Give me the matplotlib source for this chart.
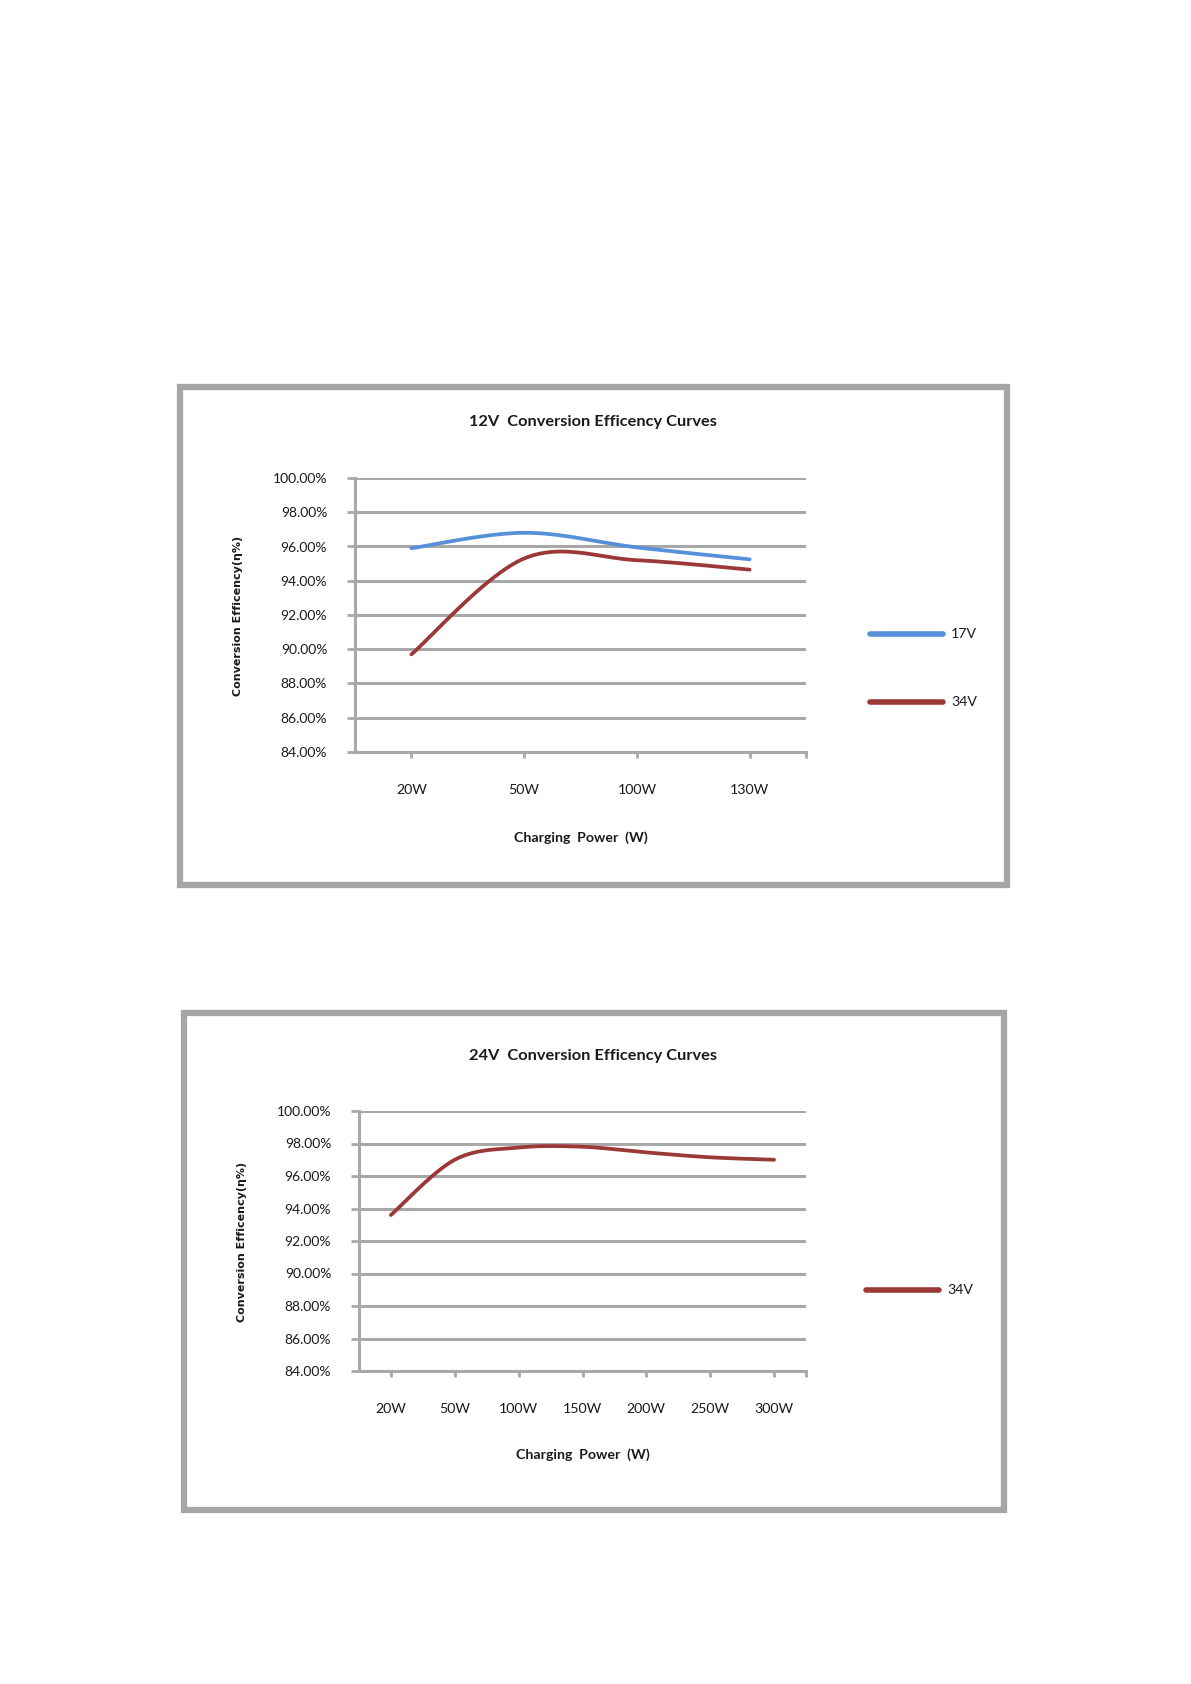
import numpy as np
import matplotlib
matplotlib.use("Agg")
import matplotlib.pyplot as plt
from matplotlib.patches import Rectangle

# ---------------- data ----------------
cats_12v = ["20W", "50W", "100W", "130W"]
eff_12v_17v = [95.9, 96.8, 95.95, 95.25]
eff_12v_34v = [89.7, 95.3, 95.2, 94.65]

cats_24v = ["20W", "50W", "100W", "150W", "200W", "250W", "300W"]
eff_24v_34v = [93.6, 97.0, 97.75, 97.8, 97.45, 97.15, 97.0]

y_ticks = [84, 86, 88, 90, 92, 94, 96, 98, 100]

title_12v = "12V  Conversion Efficency Curves"
title_24v = "24V  Conversion Efficency Curves"
ylabel = "Conversion Efficency(η%)"
xlabel = "Charging  Power  (W)"

BLUE = "#5690d8"
RED = "#9b3937"
GRID = "#a8a8a8"
BORDER = "#a6a6a6"
NARROW = ["Lato", "DejaVu Sans"]

W, H = 1191, 1684
fig = plt.figure(figsize=(W / 100, H / 100), dpi=100)
fig.patch.set_facecolor("white")


def fx(px):
    return px / W


def fy(py):
    return 1 - py / H


def smooth(xs, ys, n=40):
    # Excel-like smoothed line (Catmull-Rom -> cubic Bezier)
    xs = np.asarray(xs, float)
    ys = np.asarray(ys, float)
    P = np.column_stack([xs, ys])
    Pext = np.vstack([P[0], P, P[-1]])
    out = []
    t = np.linspace(0, 1, n)[:, None]
    for i in range(len(P) - 1):
        p0, p1, p2, p3 = Pext[i], Pext[i + 1], Pext[i + 2], Pext[i + 3]
        c1 = p1 + (p2 - p0) / 6.0
        c2 = p2 - (p3 - p1) / 6.0
        seg = ((1 - t) ** 3) * p1 + 3 * ((1 - t) ** 2) * t * c1 + 3 * (1 - t) * t ** 2 * c2 + t ** 3 * p2
        out.append(seg if i == 0 else seg[1:])
    out = np.vstack(out)
    return out[:, 0], out[:, 1]


def draw_chart(box, plot, cats, series, title, title_y, ylab_x, ylab_y,
               xlab_y, legend):
    bl, bt, br, bb = box
    fig.patches.append(Rectangle((fx(bl), fy(bb)), fx(br - bl), (bb - bt) / H,
                                 transform=fig.transFigure, fill=False,
                                 edgecolor=BORDER, linewidth=4.5, zorder=0))
    pl, pt, pr, pb = plot
    ax = fig.add_axes([fx(pl), fy(pb), fx(pr - pl), (pb - pt) / H])
    n = len(cats)
    ax.set_xlim(0, n)
    ax.set_ylim(84, 100)
    ax.set_yticks(y_ticks)
    ax.set_yticklabels([f"{v:.2f}%" for v in y_ticks], fontsize=10,
                       family=NARROW, color="#1a1a1a")
    ax.yaxis.grid(True, color=GRID, linewidth=2.2)
    ax.set_axisbelow(True)
    xt = [i + 0.5 for i in range(n)] + [n]
    ax.set_xticks(xt)
    ax.set_xticklabels(cats + [""], fontsize=10.2, family=NARROW, color="#1a1a1a")
    ax.tick_params(axis="y", length=6, width=2, color=GRID, pad=14)
    ax.tick_params(axis="x", length=4, width=2, color=GRID, pad=19)
    for s in ["top", "right"]:
        ax.spines[s].set_visible(False)
    for s in ["left", "bottom"]:
        ax.spines[s].set_color(GRID)
        ax.spines[s].set_linewidth(2.2)
    xs = [i + 0.5 for i in range(n)]
    for vals, color, lab in series:
        sx, sy = smooth(xs, vals)
        ax.plot(sx, sy, color=color, linewidth=2.7, solid_capstyle="round",
                clip_on=False, zorder=3)
    fig.text(fx((bl + br) / 2 - 1), fy(title_y), title, ha="center", va="center",
             fontsize=11.8, fontweight="bold", family=NARROW, color="#1a1a1a")
    fig.text(fx(ylab_x), fy(ylab_y), ylabel, ha="center", va="center",
             rotation=90, fontsize=8, fontweight="bold",
             family=["DejaVu Sans"], color="#1a1a1a")
    fig.text(fx((pl + pr) / 2), fy(xlab_y), xlabel, ha="center", va="center",
             fontsize=10.2, fontweight="bold", family=NARROW, color="#1a1a1a")
    for (x0, x1, y), (vals, color, lab) in zip(legend, series):
        fig.lines.append(plt.Line2D([fx(x0), fx(x1)], [fy(y), fy(y)],
                                    transform=fig.transFigure, color=color,
                                    linewidth=4.0, solid_capstyle="round"))
        fig.text(fx(x1 + 8), fy(y), lab, ha="left", va="center",
                 fontsize=10.2, family=NARROW, color="#1a1a1a")
    return ax


draw_chart(box=(180, 387, 1007, 885), plot=(355, 478, 806, 752),
           cats=cats_12v,
           series=[(eff_12v_17v, BLUE, "17V"), (eff_12v_34v, RED, "34V")],
           title=title_12v, title_y=422, ylab_x=238, ylab_y=616, xlab_y=838,
           legend=[(870, 943, 634), (870, 943, 702)])

draw_chart(box=(184, 1013, 1004, 1510), plot=(359, 1111, 806, 1371),
           cats=cats_24v,
           series=[(eff_24v_34v, RED, "34V")],
           title=title_24v, title_y=1056, ylab_x=242, ylab_y=1242, xlab_y=1455,
           legend=[(866, 939, 1290)])

fig.savefig("out.png", dpi=100, facecolor="white")
